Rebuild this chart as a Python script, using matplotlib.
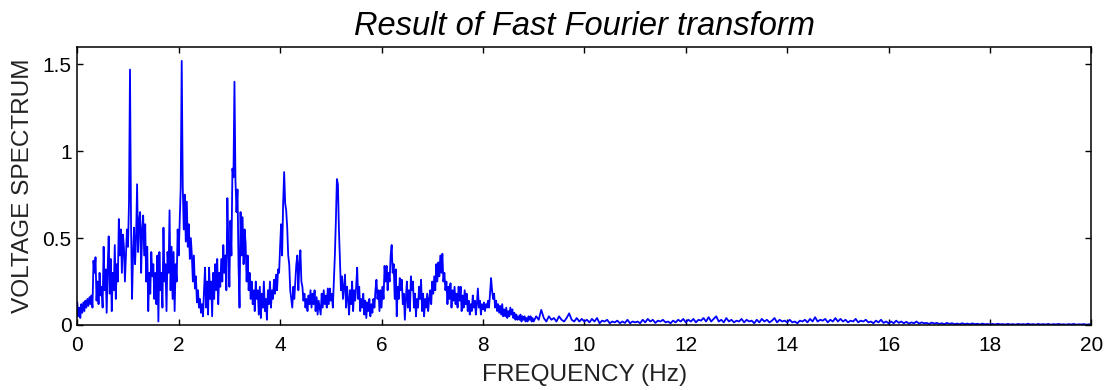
import numpy as np
import matplotlib
matplotlib.use('agg')
import matplotlib.pyplot as plt

plt.rcParams['font.family'] = ['Liberation Sans', 'DejaVu Sans']

# spectrum amplitude, 0.00 - 9.00 Hz, one bin every 0.02 Hz (rows of 0.5 Hz)
amp_low = [
	0.13, 0.05, 0.10, 0.04, 0.12, 0.07, 0.13, 0.08, 0.14, 0.10, 0.15, 0.11, 0.16, 0.12, 0.17, 0.10, 0.37, 0.30, 0.39, 0.14, 0.25, 0.12, 0.30, 0.17, 0.22,
	0.10, 0.45, 0.20, 0.32, 0.07, 0.33, 0.51, 0.18, 0.38, 0.08, 0.30, 0.20, 0.46, 0.15, 0.35, 0.25, 0.61, 0.40, 0.55, 0.30, 0.52, 0.45, 0.25, 0.40, 0.55,
	0.45, 0.70, 1.47, 0.60, 0.15, 0.40, 0.56, 0.35, 0.50, 0.81, 0.42, 0.60, 0.65, 0.30, 0.55, 0.63, 0.40, 0.58, 0.25, 0.45, 0.08, 0.30, 0.18, 0.42, 0.28,
	0.35, 0.15, 0.30, 0.12, 0.40, 0.02, 0.42, 0.20, 0.30, 0.10, 0.56, 0.25, 0.35, 0.08, 0.42, 0.30, 0.66, 0.20, 0.45, 0.15, 0.42, 0.08, 0.35, 0.25, 0.55,
	0.40, 0.60, 0.79, 1.52, 0.80, 0.55, 0.75, 0.48, 0.71, 0.45, 0.58, 0.38, 0.50, 0.40, 0.25, 0.40, 0.21, 0.28, 0.13, 0.20, 0.10, 0.15, 0.07, 0.12, 0.05,
	0.20, 0.33, 0.10, 0.25, 0.06, 0.33, 0.15, 0.25, 0.05, 0.30, 0.15, 0.35, 0.20, 0.38, 0.12, 0.30, 0.22, 0.38, 0.25, 0.46, 0.30, 0.40, 0.20, 0.73, 0.45,
	0.22, 0.60, 0.40, 0.90, 0.85, 1.40, 0.83, 0.65, 0.78, 0.35, 0.10, 0.65, 0.40, 0.62, 0.35, 0.55, 0.47, 0.25, 0.40, 0.20, 0.30, 0.15, 0.25, 0.12, 0.20,
	0.08, 0.25, 0.15, 0.20, 0.06, 0.22, 0.04, 0.18, 0.10, 0.25, 0.08, 0.15, 0.03, 0.20, 0.12, 0.25, 0.10, 0.20, 0.15, 0.26, 0.18, 0.29, 0.20, 0.32, 0.30,
	0.45, 0.58, 0.40, 0.70, 0.88, 0.70, 0.66, 0.56, 0.40, 0.35, 0.20, 0.15, 0.10, 0.22, 0.15, 0.25, 0.35, 0.40, 0.20, 0.35, 0.43, 0.25, 0.22, 0.14, 0.18,
	0.10, 0.15, 0.08, 0.17, 0.12, 0.20, 0.10, 0.18, 0.12, 0.20, 0.08, 0.16, 0.06, 0.14, 0.10, 0.06, 0.18, 0.10, 0.20, 0.12, 0.17, 0.10, 0.21, 0.12, 0.21,
	0.14, 0.18, 0.10, 0.25, 0.40, 0.60, 0.84, 0.81, 0.55, 0.38, 0.20, 0.28, 0.15, 0.22, 0.29, 0.10, 0.22, 0.15, 0.06, 0.20, 0.12, 0.25, 0.08, 0.20, 0.14,
	0.22, 0.33, 0.15, 0.22, 0.08, 0.15, 0.10, 0.18, 0.06, 0.14, 0.04, 0.13, 0.08, 0.15, 0.05, 0.12, 0.07, 0.15, 0.10, 0.20, 0.26, 0.15, 0.20, 0.08, 0.20,
	0.10, 0.22, 0.15, 0.34, 0.25, 0.34, 0.20, 0.30, 0.25, 0.40, 0.46, 0.30, 0.35, 0.15, 0.32, 0.05, 0.22, 0.15, 0.27, 0.20, 0.26, 0.12, 0.18, 0.03, 0.15,
	0.25, 0.10, 0.20, 0.08, 0.28, 0.20, 0.25, 0.10, 0.18, 0.05, 0.15, 0.10, 0.22, 0.15, 0.26, 0.08, 0.18, 0.05, 0.15, 0.10, 0.18, 0.08, 0.15, 0.20, 0.12,
	0.25, 0.18, 0.28, 0.20, 0.35, 0.25, 0.36, 0.28, 0.40, 0.30, 0.41, 0.25, 0.30, 0.20, 0.25, 0.12, 0.22, 0.15, 0.24, 0.10, 0.20, 0.14, 0.22, 0.12, 0.18,
	0.10, 0.22, 0.14, 0.22, 0.08, 0.17, 0.10, 0.20, 0.12, 0.18, 0.08, 0.14, 0.06, 0.12, 0.08, 0.17, 0.10, 0.14, 0.06, 0.12, 0.21, 0.10, 0.14, 0.06, 0.12,
	0.09, 0.13, 0.08, 0.12, 0.10, 0.14, 0.10, 0.18, 0.27, 0.20, 0.15, 0.18, 0.10, 0.14, 0.08, 0.12, 0.07, 0.11, 0.06, 0.12, 0.05, 0.09, 0.05, 0.10, 0.04,
	0.08, 0.05, 0.10, 0.06, 0.09, 0.04, 0.07, 0.03, 0.06, 0.03, 0.05, 0.03, 0.06, 0.02, 0.05, 0.03, 0.05, 0.02, 0.04, 0.02, 0.05, 0.03, 0.05, 0.02, 0.04,
	0.02,
]

# high frequency tail, 9.05 - 20.00 Hz, one bin every 0.05 Hz (rows of 1 Hz)
amp_tail = [
	0.05, 0.03, 0.087, 0.04, 0.02, 0.05, 0.03, 0.04, 0.02, 0.05, 0.03, 0.02, 0.04, 0.067, 0.03, 0.02, 0.04, 0.02, 0.035, 0.02,
	0.03, 0.015, 0.035, 0.02, 0.04, 0.01, 0.025, 0.02, 0.03, 0.01, 0.02, 0.015, 0.025, 0.01, 0.02, 0.012, 0.03, 0.01, 0.02, 0.015,
	0.02, 0.01, 0.03, 0.015, 0.035, 0.02, 0.03, 0.012, 0.025, 0.02, 0.03, 0.015, 0.02, 0.01, 0.025, 0.015, 0.03, 0.02, 0.035, 0.015,
	0.03, 0.02, 0.035, 0.015, 0.03, 0.025, 0.04, 0.02, 0.045, 0.02, 0.035, 0.05, 0.02, 0.03, 0.015, 0.04, 0.02, 0.03, 0.015, 0.025,
	0.02, 0.035, 0.015, 0.03, 0.02, 0.025, 0.01, 0.03, 0.015, 0.035, 0.02, 0.03, 0.015, 0.025, 0.04, 0.015, 0.03, 0.02, 0.025, 0.015,
	0.03, 0.015, 0.02, 0.01, 0.025, 0.02, 0.03, 0.015, 0.035, 0.02, 0.045, 0.02, 0.03, 0.025, 0.035, 0.015, 0.03, 0.02, 0.04, 0.02,
	0.035, 0.02, 0.03, 0.015, 0.025, 0.02, 0.035, 0.015, 0.025, 0.02, 0.03, 0.015, 0.02, 0.01, 0.025, 0.015, 0.03, 0.012, 0.02, 0.01,
	0.02, 0.01, 0.025, 0.012, 0.02, 0.01, 0.018, 0.008, 0.015, 0.01, 0.02, 0.008, 0.015, 0.01, 0.012, 0.006, 0.014, 0.008, 0.012, 0.006,
	0.01, 0.005, 0.012, 0.006, 0.01, 0.005, 0.008, 0.004, 0.01, 0.005, 0.008, 0.004, 0.009, 0.005, 0.007, 0.003, 0.008, 0.004, 0.006, 0.003,
	0.006, 0.003, 0.007, 0.004, 0.005, 0.003, 0.006, 0.003, 0.005, 0.002, 0.006, 0.003, 0.005, 0.003, 0.007, 0.003, 0.005, 0.002, 0.006, 0.003,
	0.005, 0.003, 0.006, 0.002, 0.005, 0.003, 0.006, 0.003, 0.004, 0.002, 0.005, 0.003, 0.006, 0.002, 0.004, 0.003, 0.005, 0.002, 0.004, 0.003,
]

x_ticks = [0, 2, 4, 6, 8, 10, 12, 14, 16, 18, 20]
y_ticks = [0, 0.5, 1, 1.5]
y_tick_labels = ['0', '0.5', '1', '1.5']

freq = np.concatenate([np.arange(len(amp_low)) * 0.02,
					   9.05 + np.arange(len(amp_tail)) * 0.05])
amp = np.array(amp_low + amp_tail)

fig = plt.figure(figsize=(11.1, 3.9), dpi=100)
ax = fig.add_axes([0.0696, 0.1667, 0.9137, 0.7128])

ax.plot(freq, amp, color='#0000ff', lw=1.3)

ax.set_xlim(0, 20)
ax.set_ylim(0, 1.6)
ax.set_xticks(x_ticks)
ax.set_yticks(y_ticks)
ax.set_yticklabels(y_tick_labels)

ax.tick_params(direction='in', length=4.3, width=1, top=True, right=True,
			   labelsize=15, color='black')
ax.tick_params(axis='x', pad=8)
ax.tick_params(axis='y', pad=4)
for sp in ax.spines.values():
	sp.set_linewidth(1.1)
	sp.set_color('black')

ax.set_title('Result of Fast Fourier transform', fontsize=23.5, style='italic', pad=8.4)
ax.set_xlabel('FREQUENCY (Hz)', fontsize=17.6, color='#222222', labelpad=6.5)
ax.set_ylabel('VOLTAGE SPECTRUM', fontsize=17.6, color='#222222', labelpad=6)

fig.savefig('out.png', dpi=100)
